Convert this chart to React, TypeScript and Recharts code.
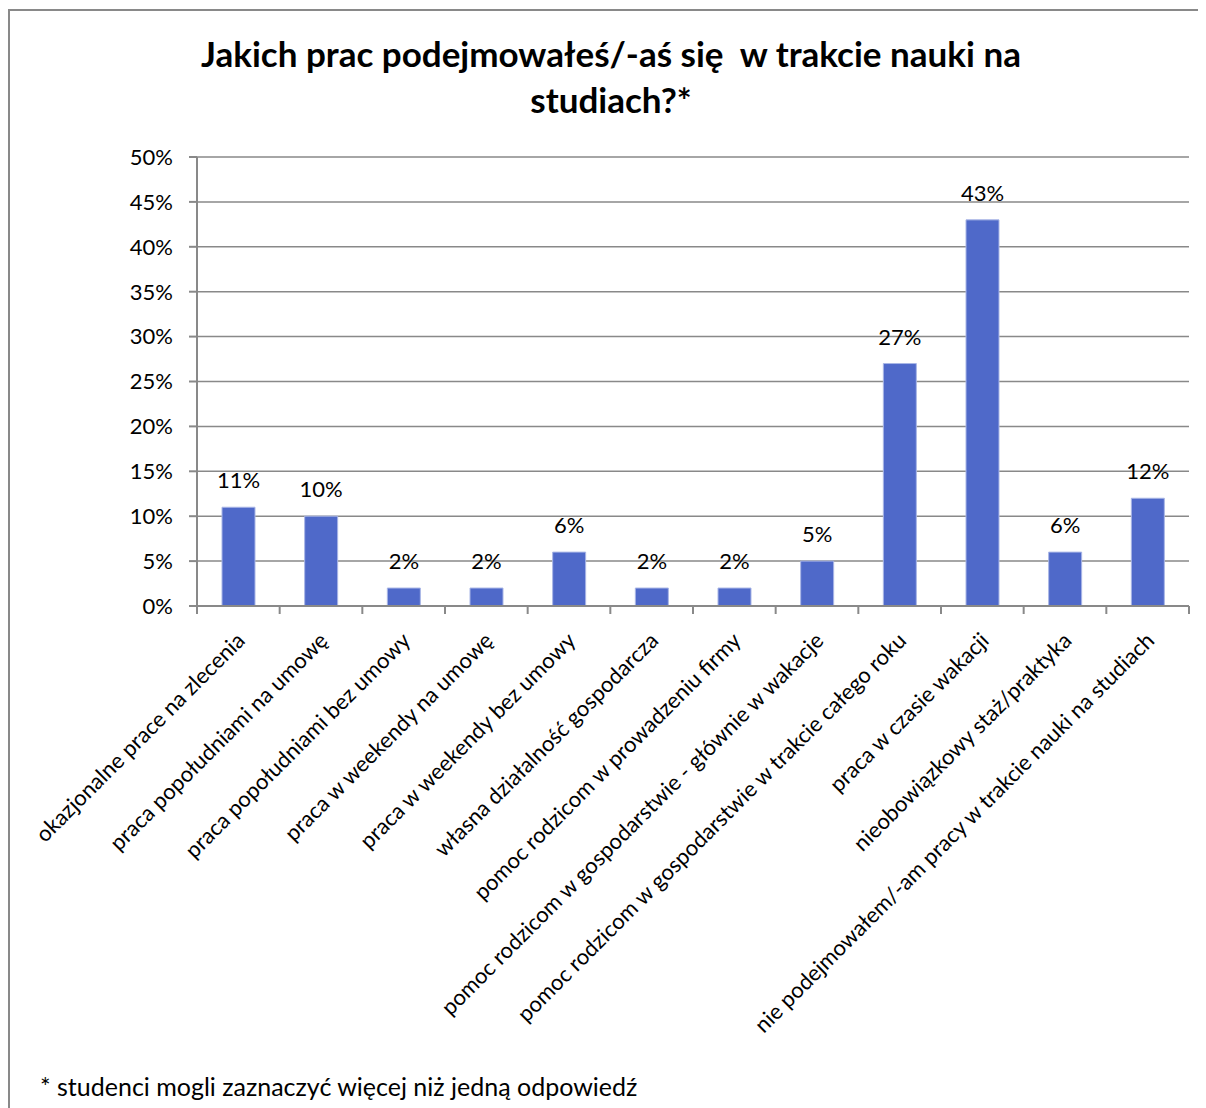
import { BarChart, Bar, XAxis, YAxis, CartesianGrid, LabelList } from 'recharts';

const categories = [
  'okazjonalne prace na zlecenia',
  'praca popołudniami na umowę',
  'praca popołudniami bez umowy',
  'praca w weekendy na umowę',
  'praca w weekendy bez umowy',
  'własna działalność gospodarcza',
  'pomoc rodzicom w prowadzeniu firmy',
  'pomoc rodzicom w gospodarstwie - głównie w wakacje',
  'pomoc rodzicom w gospodarstwie w trakcie całego roku',
  'praca w czasie wakacji',
  'nieobowiązkowy staż/praktyka',
  'nie podejmowałem/-am pracy w trakcie nauki na studiach',
];

const shares = [11, 10, 2, 2, 6, 2, 2, 5, 27, 43, 6, 12];

const yTicks = [0, 5, 10, 15, 20, 25, 30, 35, 40, 45, 50];

const data = categories.map((name, i) => ({ name, value: shares[i] }));

const FONT = 'Lato, "Open Sans", sans-serif';
const GRAY = '#898989';

function CategoryTick(props: any) {
  const { x, y, payload, width, visibleTicksCount, index } = props;
  const band = width / visibleTicksCount;
  const left = x - band / 2;
  const ax = x + 8;
  const ay = y + 28;
  return (
    <g>
      <line x1={left} y1={y - 8} x2={left} y2={y} stroke={GRAY} strokeWidth={2} />
      {index === visibleTicksCount - 1 && (
        <line x1={left + band} y1={y - 8} x2={left + band} y2={y} stroke={GRAY} strokeWidth={2} />
      )}
      <text
        x={ax}
        y={ay}
        transform={`rotate(-45, ${ax}, ${ay})`}
        textAnchor="end"
        fontSize={22}
        fontFamily={FONT}
        fill="#000"
      >
        {payload.value}
      </text>
    </g>
  );
}

export default function App() {
  return (
    <div style={{ width: 1194, height: 1100, overflow: 'hidden', paddingTop: 1 }}>
      <div
        style={{
          position: 'relative',
          width: 1190,
          height: 1110,
          border: `2px solid ${GRAY}`,
          background: '#fff',
          fontFamily: FONT,
        }}
      >
        <div
          style={{
            position: 'absolute',
            left: 0,
            top: 19,
            width: 1202,
            textAlign: 'center',
            fontWeight: 700,
            fontSize: 35,
            lineHeight: '46px',
            color: '#000',
          }}
        >
          Jakich prac podejmowałeś/-aś się&nbsp; w trakcie nauki na
          <br />
          studiach?*
        </div>
        <div style={{ position: 'absolute', left: 0, top: 0 }}>
          <BarChart
            width={1190}
            height={1060}
            data={data}
            margin={{ top: 146, right: 11, bottom: 24, left: 0 }}
            barSize={33}
          >
            <CartesianGrid vertical={false} stroke={GRAY} strokeWidth={1.5} />
            <YAxis
              domain={[0, 50]}
              ticks={yTicks}
              interval={0}
              width={187}
              tickFormatter={(v: number) => `${v}%`}
              tick={{ fontSize: 22, fontFamily: FONT, fill: '#000' }}
              tickSize={8}
              tickMargin={16}
              stroke={GRAY}
              strokeWidth={2}
            />
            <XAxis
              dataKey="name"
              interval={0}
              height={441}
              tickLine={false}
              tick={<CategoryTick />}
              stroke={GRAY}
              strokeWidth={2}
            />
            <Bar dataKey="value" fill="#4F69C9" stroke="#a9b6e6" strokeWidth={1} isAnimationActive={false}>
              <LabelList
                dataKey="value"
                position="top"
                offset={19}
                formatter={(v: any) => `${v}%`}
                style={{ fontSize: 22, fontFamily: FONT, fill: '#000' }}
              />
            </Bar>
          </BarChart>
        </div>
        <div
          style={{
            position: 'absolute',
            left: 30,
            top: 1060,
            fontSize: 25,
            color: '#000',
          }}
        >
          * studenci mogli zaznaczyć więcej niż jedną odpowiedź
        </div>
      </div>
    </div>
  );
}
